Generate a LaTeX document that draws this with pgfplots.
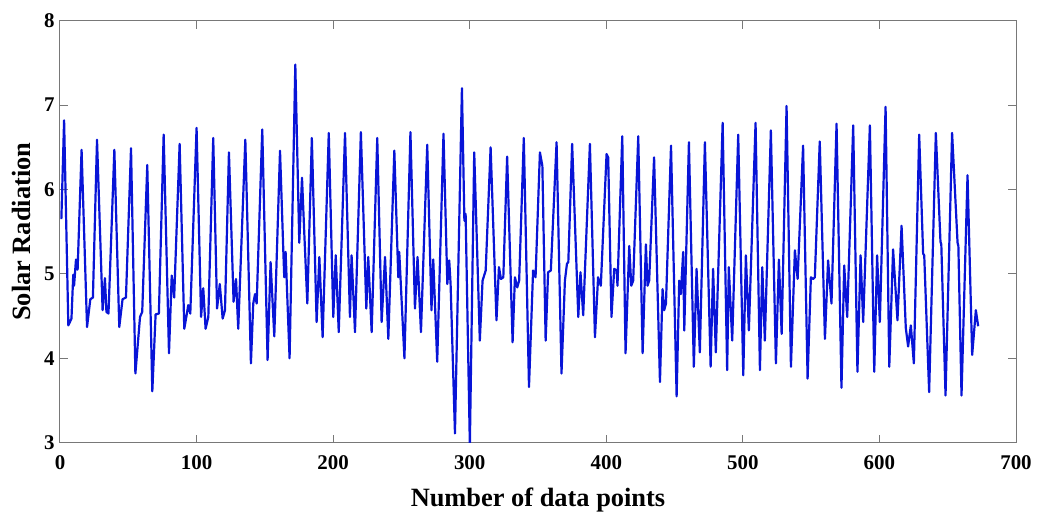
\documentclass[border=0pt]{standalone}
\usepackage{pgfplots}
\pgfplotsset{compat=1.18}
\usepackage{fontspec}
\setmainfont{Liberation Serif}
\definecolor{lineblue}{RGB}{8,20,215}
\definecolor{axgray}{RGB}{120,120,120}
\begin{document}
\begin{tikzpicture}[x=1bp,y=1bp]
\path[use as bounding box] (-60bp,-69.3bp) rectangle (980bp,442.7bp);
\begin{axis}[
  at={(0,0)}, anchor=south west,
  scale only axis, width=956bp, height=422bp,
  xmin=0, xmax=700, ymin=3, ymax=8,
  xtick={0,100,...,700}, ytick={3,4,...,8},
  tick align=inside, xtick pos=both, ytick pos=both,
  major tick length=8bp,
  axis line style={axgray, line width=1bp},
  every tick/.style={axgray, line width=1bp},
  tick label style={font=\fontsize{21}{24}\selectfont\bfseries},
  /pgf/number format/assume math mode=true,
  xticklabel style={yshift=-9bp},
  yticklabel style={xshift=-2bp},
  xlabel={Number of data points},
  ylabel={Solar Radiation},
  label style={font=\fontsize{26.5}{30}\selectfont\bfseries},
  xlabel style={yshift=-12bp},
  ylabel style={yshift=6bp},
  clip=true,
]
\addplot[lineblue, line width=2.2bp, line join=round] table {
x y
1 5.65
3.0 6.82
6.1 4.39
8.4 4.47
9.7 4.99
10.3 4.86
11.7 5.17
12.9 5.05
15.8 6.47
19.8 4.37
22.2 4.70
24.1 4.72
27.1 6.59
31.2 4.57
32.9 4.95
34.0 4.55
35.5 4.53
39.8 6.47
43.4 4.37
45.8 4.70
48.3 4.72
52.0 6.49
55.2 3.82
58.6 4.49
60.2 4.55
63.9 6.29
67.6 3.61
70.0 4.52
72.4 4.53
75.9 6.65
79.8 4.06
81.8 4.98
83.6 4.72
87.6 6.54
91.0 4.35
92.7 4.51
93.9 4.63
95.4 4.53
100.0 6.73
103.3 4.49
104.9 4.83
106.6 4.35
108.6 4.49
112.2 6.61
115.0 4.59
117.0 4.88
119.1 4.47
120.8 4.57
123.7 6.44
127.1 4.67
128.9 4.94
130.5 4.35
135.7 6.59
139.8 3.94
141.5 4.65
142.8 4.76
144.0 4.65
148.1 6.71
152.0 3.98
154.2 5.14
156.9 4.26
161.1 6.46
163.5 5.28
164.2 4.96
165.2 5.26
168.1 4.00
172.3 7.48
175.2 5.37
177.2 6.14
178.8 5.51
181.1 4.65
184.4 6.61
187.9 4.43
189.9 5.20
192.3 4.25
196.8 6.67
200.1 4.49
201.9 5.22
204.1 4.31
208.7 6.67
212.3 4.49
213.5 5.22
216.0 4.31
220.3 6.68
224.3 4.59
225.7 5.20
228.2 4.31
232.3 6.61
235.5 4.43
238.0 5.20
240.4 4.23
244.8 6.46
247.7 4.96
248.4 5.26
252.2 4.00
256.6 6.68
259.9 4.59
261.8 5.20
264.3 4.31
268.9 6.53
272.0 4.57
273.3 5.17
276.2 3.96
280.8 6.66
283.6 4.88
285.0 5.16
286.0 4.88
289.2 3.11
294.3 7.20
296.1 5.63
297.0 5.71
300.1 2.97
303.3 6.44
307.4 4.21
309.4 4.92
311.7 5.04
315.3 6.50
319.6 4.45
321.4 5.08
322.9 4.94
324.6 4.96
327.4 6.39
331.4 4.19
333.1 4.96
334.8 4.84
336.2 4.92
339.6 6.61
343.4 3.66
346.4 5.04
348.2 4.96
351.4 6.44
353.2 6.28
355.6 4.21
357.4 5.02
359.4 5.04
363.6 6.56
367.2 3.82
369.7 4.92
371.2 5.12
372.2 5.14
375.0 6.54
379.5 4.49
381.1 5.02
383.1 4.51
388.0 6.54
391.7 4.25
394.0 4.96
396.0 4.86
400.2 6.42
401.4 6.38
403.8 4.49
405.8 5.06
407.6 5.04
408.2 4.86
411.7 6.63
414.1 4.06
416.8 5.33
418.3 4.86
419.7 4.92
423.4 6.63
426.6 4.06
429.0 5.35
430.2 4.86
431.4 4.92
435.0 6.38
439.3 3.72
441.2 4.82
442.4 4.57
443.7 4.65
447.4 6.52
451.5 3.55
453.4 4.92
454.6 4.76
456.3 5.26
457.1 4.33
460.5 6.56
464.1 3.90
466.1 5.06
468.5 4.07
472.2 6.56
476.4 3.90
478.2 5.06
480.2 4.07
485.2 6.79
488.5 3.86
489.7 5.08
492.2 4.21
496.6 6.65
500.3 3.80
502.2 5.22
504.4 4.33
509.3 6.79
512.5 3.86
514.2 5.08
516.1 4.21
520.5 6.70
524.2 3.94
526.4 5.17
528.4 4.29
532.0 6.99
535.2 3.90
538.1 5.28
540.1 4.94
544.1 6.52
547.4 3.76
549.8 4.96
551.5 4.94
552.7 4.96
556.3 6.57
560.1 4.23
562.4 5.16
564.9 4.65
568.6 6.78
572.2 3.65
574.2 5.10
576.4 4.49
580.8 6.76
583.9 3.84
586.2 5.22
588.1 4.43
593.0 6.76
596.2 3.84
598.3 5.22
600.3 4.43
604.5 6.98
607.2 3.90
610.0 5.29
613.2 4.45
616.2 5.57
619.3 4.36
621.0 4.14
623.0 4.39
625.2 3.94
629.1 6.65
632.0 5.24
632.8 5.22
636.4 3.60
641.3 6.67
644.7 5.38
645.3 5.35
648.4 3.56
653.2 6.67
657.2 5.37
657.8 5.33
660.1 3.56
664.5 6.17
667.9 4.04
670.6 4.57
672.3 4.38
};
\end{axis}
\end{tikzpicture}
\end{document}
